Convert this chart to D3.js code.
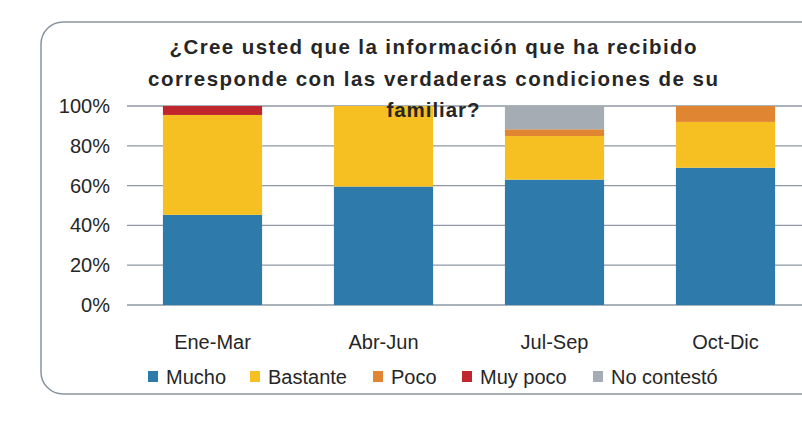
<!DOCTYPE html>
<html>
<head>
<meta charset="utf-8">
<script src="https://cdn.jsdelivr.net/npm/d3@7"></script>
<style>
  body { margin: 0; background: #fff; }
  text { font-family: "Liberation Sans", Arial, sans-serif; fill: #262626; }
</style>
</head>
<body>
<div id="chart"></div>
<script>
// data (percent of answers per quarter)
const quarters = ["Ene-Mar", "Abr-Jun", "Jul-Sep", "Oct-Dic"];
const seriesNames = ["Mucho", "Bastante", "Poco", "Muy poco", "No contestó"];
const mucho     = [45.3, 59.5, 63.0, 69.0];
const bastante  = [50.2, 40.5, 21.9, 23.0];
const poco      = [0, 0, 3.4, 8.0];
const muyPoco   = [4.5, 0, 0, 0];
const noContesto = [0, 0, 11.7, 0];
const yTicks = [0, 20, 40, 60, 80, 100];
const colors = ["#2e7aab", "#f6c022", "#e08531", "#c0272d", "#a5acb4"];
const titleLines = ["¿Cree usted que la información que ha recibido",
                    "corresponde con las verdaderas condiciones de su",
                    "familiar?"];

const width = 802, height = 425;
const plot = { left: 127, right: 811, top: 106, bottom: 305 };

const svg = d3.select("#chart").append("svg")
    .attr("width", width).attr("height", height);

// rounded frame, runs off the right side
svg.append("rect")
    .attr("x", 41).attr("y", 22)
    .attr("width", 800).attr("height", 372)
    .attr("rx", 22).attr("ry", 22)
    .attr("fill", "none").attr("stroke", "#8a949e").attr("stroke-width", 1.5);

const x = d3.scaleBand().domain(quarters)
    .range([plot.left, plot.right]).paddingInner(0.42).paddingOuter(0.21);
const y = d3.scaleLinear().domain([0, 100]).range([plot.bottom, plot.top]);

// gridlines
svg.append("g").selectAll("line").data(yTicks).join("line")
    .attr("x1", plot.left).attr("x2", width)
    .attr("y1", d => y(d)).attr("y2", d => y(d))
    .attr("stroke", "#8e99a5").attr("stroke-width", 1.3);

// y labels
svg.append("g").selectAll("text").data(yTicks).join("text")
    .attr("x", 110).attr("y", d => y(d) + 7)
    .attr("text-anchor", "end").attr("font-size", 20)
    .text(d => d + "%");

// stacked bars
const table = quarters.map((q, i) => ({
  q: q, "Mucho": mucho[i], "Bastante": bastante[i], "Poco": poco[i],
  "Muy poco": muyPoco[i], "No contestó": noContesto[i]
}));
const stacked = d3.stack().keys(seriesNames)(table);

svg.append("g").selectAll("g").data(stacked).join("g")
    .attr("fill", (d, i) => colors[i])
  .selectAll("rect").data(d => d.filter(s => s[1] - s[0] > 0)).join("rect")
    .attr("x", d => x(d.data.q))
    .attr("width", x.bandwidth())
    .attr("y", d => y(d[1]))
    .attr("height", d => y(d[0]) - y(d[1]));

// category labels
svg.append("g").selectAll("text").data(quarters).join("text")
    .attr("x", d => x(d) + x.bandwidth() / 2).attr("y", 349)
    .attr("text-anchor", "middle").attr("font-size", 20)
    .text(d => d);

// title (drawn over the bars as in the original)
const titleWidths = [527, 570, 93];
svg.append("g").selectAll("text").data(titleLines).join("text")
    .attr("x", 433).attr("y", (d, i) => 54 + i * 31.5)
    .attr("text-anchor", "middle").attr("font-size", 20.5).attr("font-weight", "bold")
    .attr("textLength", (d, i) => titleWidths[i]).attr("lengthAdjust", "spacing")
    .text(d => d);

// legend
const legendX = [148, 250, 373, 462, 593];
const legend = svg.append("g").selectAll("g").data(seriesNames).join("g")
    .attr("transform", (d, i) => `translate(${legendX[i]},371)`);
legend.append("rect").attr("width", 10).attr("height", 11)
    .attr("fill", (d, i) => colors[i]);
legend.append("text").attr("x", 18).attr("y", 13)
    .attr("font-size", 20).text(d => d);
</script>
</body>
</html>
